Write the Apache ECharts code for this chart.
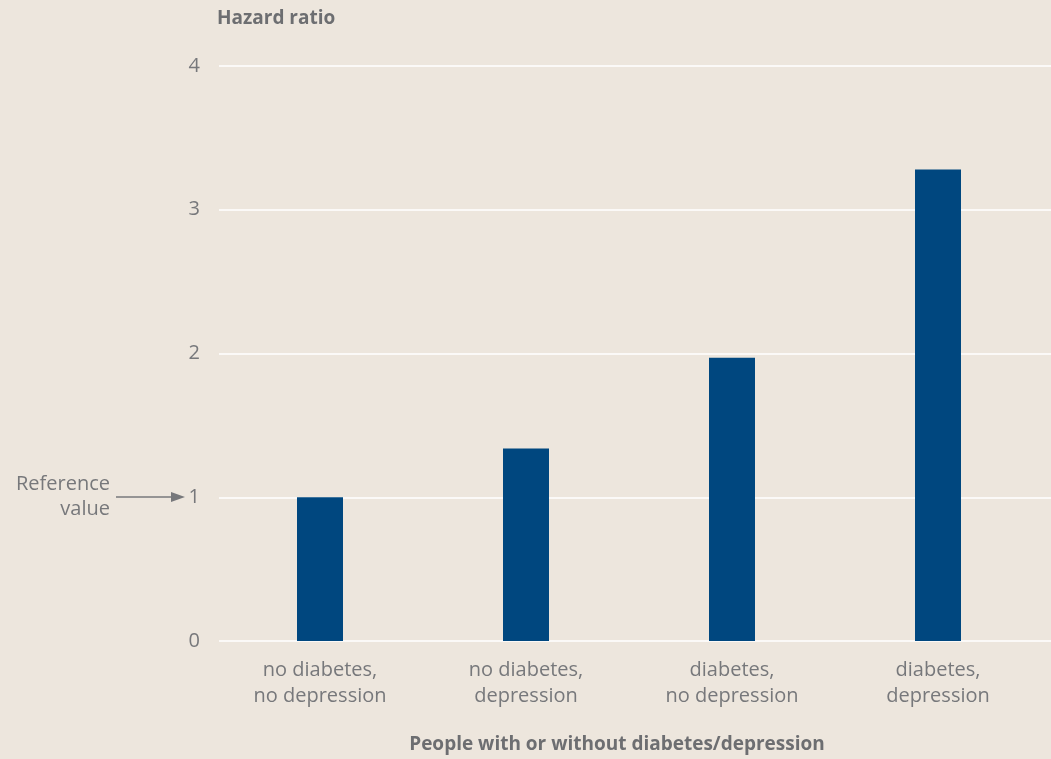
<!DOCTYPE html>
<html><head><meta charset="utf-8">
<script src="https://cdn.jsdelivr.net/npm/echarts@6/dist/echarts.min.js"></script>
<style>html,body{margin:0;padding:0;background:#ede6dd;}#c{width:1051px;height:759px;}</style>
</head><body><div id="c"></div>
<script>
const categories = ['no diabetes,\nno depression', 'no diabetes,\ndepression', 'diabetes,\nno depression', 'diabetes,\ndepression'];
const hazardRatio = [1.0, 1.34, 1.97, 3.28];
const yTicks = [0, 1, 2, 3, 4];

const gray = '#77787b';
const font = '"Open Sans", sans-serif';
const chart = echarts.init(document.getElementById('c'));
chart.setOption({
  backgroundColor: '#ede6dd',
  animation: false,
  grid: [
    {left: 219, right: 0, top: 66, bottom: 118, outerBoundsMode: 'none', containLabel: false},
    {left: 217, right: 10, top: 66, bottom: 118, outerBoundsMode: 'none', containLabel: false}
  ],
  xAxis: [
    {gridIndex: 0, type: 'value', show: false},
    {gridIndex: 1, type: 'category', data: categories,
     axisLine: {show: false}, axisTick: {show: false},
     axisLabel: {color: gray, fontFamily: font, fontSize: 20, lineHeight: 26, margin: 16},
     name: 'People with or without diabetes/depression', nameLocation: 'middle', nameGap: 94,
     nameTextStyle: {color: '#6d6e71', fontFamily: font, fontSize: 19, fontWeight: 'bold', padding: [0, 24, 0, 0]}}
  ],
  yAxis: [
    {gridIndex: 0, type: 'value', min: yTicks[0], max: yTicks[yTicks.length - 1], interval: 1,
     axisLine: {show: false}, axisTick: {show: false},
     axisLabel: {color: gray, fontFamily: font, fontSize: 20, margin: 19},
     splitLine: {show: true, lineStyle: {color: '#ffffff', width: 1.5}},
     name: 'Hazard ratio', nameLocation: 'end', nameGap: 38,
     nameTextStyle: {color: '#6d6e71', fontFamily: font, fontSize: 19, fontWeight: 'bold', align: 'left', padding: [0, 0, 0, -2]}},
    {gridIndex: 1, type: 'value', min: yTicks[0], max: yTicks[yTicks.length - 1], interval: 1, show: false}
  ],
  series: [{
    type: 'bar', xAxisIndex: 1, yAxisIndex: 1,
    data: hazardRatio, barWidth: 46,
    itemStyle: {color: '#00477f'}
  }],
  graphic: [
    {type: 'text', x: 110, y: 472,
     style: {text: 'Reference\nvalue', fill: gray, font: '20px "Open Sans", sans-serif', align: 'right', lineHeight: 25}},
    {type: 'line', shape: {x1: 116, y1: 497, x2: 174, y2: 497}, style: {stroke: gray, lineWidth: 1.5}},
    {type: 'polygon', shape: {points: [[171, 492], [185, 497], [171, 502]]}, style: {fill: gray}}
  ]
});
</script></body></html>
